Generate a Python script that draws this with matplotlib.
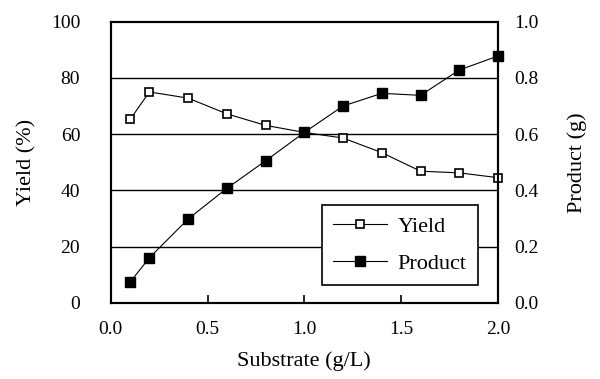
import matplotlib
matplotlib.use("Agg")
from matplotlib import pyplot as plt

# data
substrate = [0.1, 0.2, 0.4, 0.6, 0.8, 1.0, 1.2, 1.4, 1.6, 1.8, 2.0]
yield_pct = [65.2, 75.0, 72.8, 67.2, 63.1, 60.6, 58.6, 53.4, 46.8, 46.2, 44.5]
product_g = [0.073, 0.160, 0.298, 0.407, 0.505, 0.606, 0.700, 0.745, 0.738, 0.828, 0.878]

x_ticks = [0.0, 0.5, 1.0, 1.5, 2.0]
yl_ticks = [0, 20, 40, 60, 80, 100]
yr_ticks = [0.0, 0.2, 0.4, 0.6, 0.8, 1.0]

plt.rcParams['font.family'] = ['Liberation Serif', 'DejaVu Serif']
plt.rcParams['font.size'] = 14

fig = plt.figure(figsize=(6, 3.79), dpi=100)
ax = fig.add_axes([110.7/600, 1 - 302.7/379, (498 - 110.7)/600, (302.7 - 21.7)/379])
ax2 = ax.twinx()

for y in yl_ticks[1:-1]:
    ax.axhline(y, color='black', lw=1.0, zorder=0)

l1, = ax.plot(substrate, yield_pct, color='black', lw=0.8, marker='s', ms=6,
              mfc='white', mec='black', mew=1.2, label='Yield', clip_on=False, zorder=3)
l2, = ax2.plot(substrate, product_g, color='black', lw=0.8, marker='s', ms=6.5,
               mfc='black', mec='black', label='Product', clip_on=False, zorder=3)

ax.set_xlim(0, 2.0)
ax.set_ylim(0, 100)
ax2.set_ylim(0, 1.0)
ax.set_xticks(x_ticks)
ax.set_xticklabels([f"{v:.1f}" for v in x_ticks])
ax.set_yticks(yl_ticks)
ax2.set_yticks(yr_ticks)
ax2.set_yticklabels([f"{v:.1f}" for v in yr_ticks])

ax.tick_params(axis='x', direction='in', length=6, width=1.2, pad=13)
ax.tick_params(axis='y', length=0, pad=22)
ax2.tick_params(axis='y', length=0, pad=12)

for a in (ax, ax2):
    for s in a.spines.values():
        s.set_linewidth(1.5)

ax.set_xlabel("Substrate (g/L)", fontsize=16, labelpad=10)
ax.set_ylabel("Yield (%)", fontsize=16, labelpad=10)
ax2.set_ylabel("Product (g)", fontsize=16, labelpad=20)

leg = ax2.legend([l1, l2], ['Yield', 'Product'], loc='lower right',
                 bbox_to_anchor=(0.948, 0.063), borderaxespad=0,
                 frameon=True, fancybox=False,
                 edgecolor='black', handlelength=2.4, handletextpad=0.5,
                 borderpad=0.5, labelspacing=0.75, fontsize=16)
leg.get_frame().set_linewidth(1.2)
leg.get_frame().set_alpha(1)

fig.savefig("out.png", dpi=100)
